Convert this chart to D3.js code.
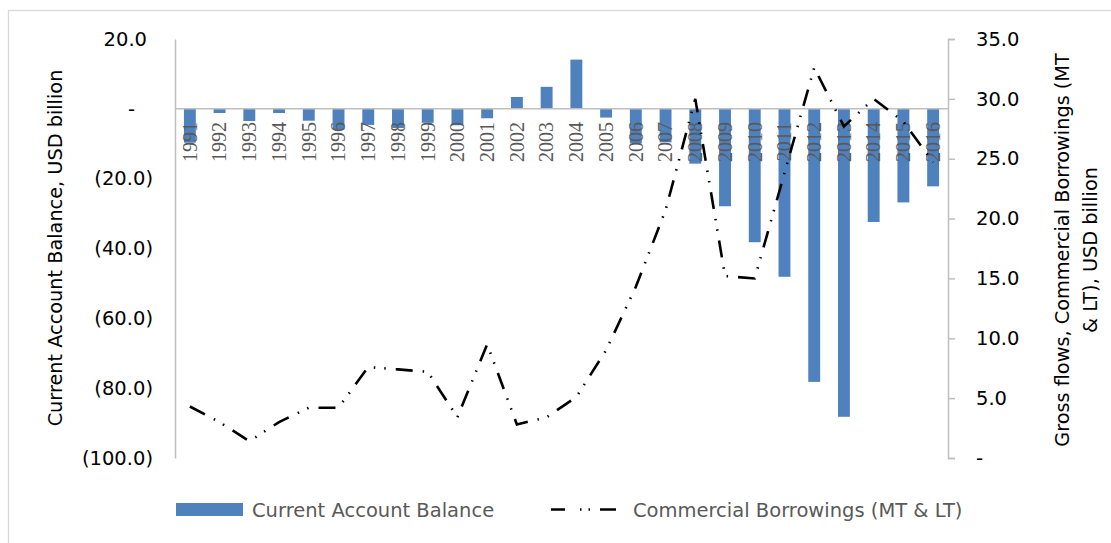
<!DOCTYPE html>
<html>
<head>
<meta charset="utf-8">
<script src="https://cdn.jsdelivr.net/npm/d3@7"></script>
<style>
  body { margin: 0; background: #fff; }
  svg { display: block; }
</style>
</head>
<body>
<svg id="graph" width="1111" height="543"></svg>
<script>
// données
const annees = ["1991","1992","1993","1994","1995","1996","1997","1998","1999","2000","2001","2002","2003",
                "2004","2005","2006","2007","2008","2009","2010","2011","2012","2013","2014","2015","2016"];
const soldeCourant = [-9.7, -1.2, -3.5, -1.2, -3.4, -5.9, -4.6, -5.5, -4.0, -4.7, -2.7, 3.4, 6.3,
                      14.1, -2.5, -9.9, -9.6, -15.7, -27.9, -38.2, -48.1, -78.2, -88.2, -32.4, -26.8, -22.2];
const emprunts = [4.3, 3.0, 1.4, 3.0, 4.2, 4.2, 7.6, 7.4, 7.2, 3.4, 9.5, 2.8, 3.4,
                  5.1, 9.0, 14.3, 20.7, 30.0, 15.2, 15.0, 23.8, 32.6, 27.7, 30.0, 28.1, 24.7];
const ticksGauche = [20, 0, -20, -40, -60, -80, -100];
const ticksDroite = [0, 5, 10, 15, 20, 25, 30, 35];
const nomSerie1 = "Current Account Balance";
const nomSerie2 = "Commercial Borrowings (MT & LT)";

const data = annees.map((a, i) => ({annee: a, A: soldeCourant[i], B: emprunts[i]}));

const svg = d3.select("#graph");
const police = "'DejaVu Sans', sans-serif";
const gris = "#bfbfbf";
const tirets = "17,10,1.5,9,1.5,10"; // long tiret - point - point

// cadre du graphique
svg.append("rect")
    .attr("x", 8.5).attr("y", 10.5)
    .attr("width", 1300).attr("height", 700)
    .attr("fill", "none").attr("stroke", "#d9d9d9").attr("stroke-width", 1.3);

const x = d3.scaleBand().domain(annees).range([175, 948]).paddingInner(0.6).paddingOuter(0.3);
const yG = d3.scaleLinear().domain([-100, 20]).range([458, 39]);
const yD = d3.scaleLinear().domain([0, 35]).range([458, 39]);

// barres
svg.selectAll(".histobarre")
    .data(data)
    .join("rect")
    .attr("class", "histobarre")
    .attr("x", d => x(d.annee))
    .attr("width", x.bandwidth())
    .attr("y", d => yG(Math.max(0, d.A)))
    .attr("height", d => Math.abs(yG(d.A) - yG(0)))
    .attr("fill", "#4f81bd");

// étiquettes des années (verticales, sous l'axe)
svg.selectAll(".annee")
    .data(data)
    .join("text")
    .attr("class", "annee")
    .attr("transform", d => `translate(${x(d.annee) + x.bandwidth() / 2},122) rotate(-90)`)
    .attr("dy", "0.34em")
    .attr("text-anchor", "end")
    .attr("font-family", "'Liberation Serif', serif")
    .attr("font-size", 20)
    .attr("fill", "#595959")
    .text(d => d.annee);

// axe gauche
const axeG = svg.append("g")
    .attr("transform", "translate(175,0)")
    .call(d3.axisLeft(yG).tickValues(ticksGauche).tickSize(0).tickPadding(22)
        .tickFormat(v => v < 0 ? `(${Math.abs(v).toFixed(1)})` : v === 0 ? "-" : v.toFixed(1)));
axeG.select(".domain").attr("stroke", gris).attr("stroke-width", 1.5);
axeG.selectAll("text")
    .attr("font-family", police).attr("font-size", 19.5).attr("fill", "#000")
    .attr("dx", v => v > 0 ? -6 : v === 0 ? -18 : 0);

// axe droit
const axeD = svg.append("g")
    .attr("transform", "translate(948,0)")
    .call(d3.axisRight(yD).tickValues(ticksDroite).tickSizeInner(7).tickSizeOuter(7).tickPadding(21)
        .tickFormat(v => v === 0 ? "-" : v.toFixed(1)));
axeD.select(".domain").attr("stroke", gris).attr("stroke-width", 1.5);
axeD.selectAll(".tick line").attr("stroke", gris).attr("stroke-width", 1.5);
axeD.selectAll("text").attr("font-family", police).attr("font-size", 19.5).attr("fill", "#000");

// ligne du zéro
svg.append("line")
    .attr("x1", 175).attr("x2", 948)
    .attr("y1", yG(0)).attr("y2", yG(0))
    .attr("stroke", gris).attr("stroke-width", 1.5);

// courbe des emprunts
const ligne = d3.line()
    .x(d => x(d.annee) + x.bandwidth() / 2)
    .y(d => yD(d.B));
svg.append("path")
    .datum(data)
    .attr("d", ligne)
    .attr("fill", "none")
    .attr("stroke", "#000")
    .attr("stroke-width", 2.6)
    .attr("stroke-dasharray", tirets);

// titres des axes
svg.append("text")
    .attr("transform", "translate(62,248) rotate(-90)")
    .attr("text-anchor", "middle")
    .attr("font-family", police).attr("font-size", 19.3)
    .text("Current Account Balance, USD billion");

const titreD = svg.append("text")
    .attr("transform", "translate(1069,250) rotate(-90)")
    .attr("text-anchor", "middle")
    .attr("font-family", police).attr("font-size", 19.3);
titreD.append("tspan").attr("x", 0).attr("y", 0).text("Gross flows, Commercial Borrowings (MT");
titreD.append("tspan").attr("x", 0).attr("y", 28).text("& LT), USD billion");

// légende
svg.append("rect")
    .attr("x", 176).attr("y", 503)
    .attr("width", 67).attr("height", 13)
    .attr("fill", "#4f81bd");
svg.append("text")
    .attr("x", 252).attr("y", 517)
    .attr("font-family", police).attr("font-size", 19.5).attr("fill", "#595959")
    .text(nomSerie1);
svg.append("line")
    .attr("x1", 551).attr("x2", 616)
    .attr("y1", 509.5).attr("y2", 509.5)
    .attr("stroke", "#000").attr("stroke-width", 2.6)
    .attr("stroke-dasharray", "14,15,1.5,7,1.5,10,16");
svg.append("text")
    .attr("x", 633).attr("y", 517)
    .attr("font-family", police).attr("font-size", 19.5).attr("fill", "#595959")
    .text(nomSerie2);
</script>
</body>
</html>
